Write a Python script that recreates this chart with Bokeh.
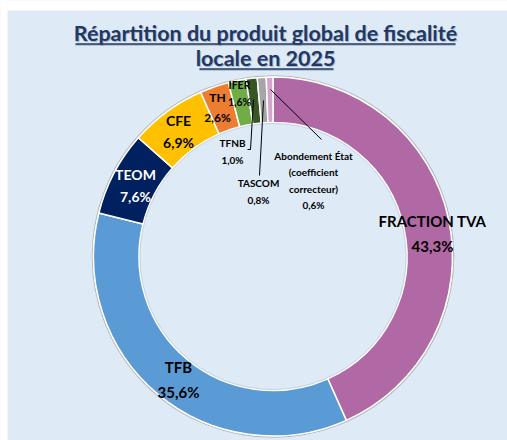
import numpy as np
from bokeh.plotting import figure
from bokeh.models import Range1d
from bokeh.core.properties import value
from bokeh.embed import file_html
from bokeh.resources import INLINE

# ---- data ----
categories = ["FRACTION TVA", "TFB", "TEOM", "CFE", "TH", "IFER", "TFNB", "TASCOM",
              "Abondement État\n(coefficient\ncorrecteur)"]
shares = [43.3, 35.6, 7.6, 6.9, 2.6, 1.6, 1.0, 0.8, 0.6]
share_labels = ["43,3%", "35,6%", "7,6%", "6,9%", "2,6%", "1,6%", "1,0%", "0,8%", "0,6%"]
colors = ["#B069A5", "#5B9BD5", "#002060", "#FFC000", "#ED7D31", "#70AD47", "#375623",
          "#A5A5A5", "#D6A3CD"]
title_lines = ["Répartition du produit global de fiscalité", "locale en 2025"]

# ---- layout (screen px -> data; y up) ----
W, H = 507, 440
BG = "#DEEAF6"
def Y(sy):
    return 440 - sy

p = figure(width=W, height=H, output_backend="svg", toolbar_location=None,
           x_range=Range1d(0, 507), y_range=Range1d(0, 440),
           x_axis_location=None, y_axis_location=None,
           min_border=0, outline_line_color=None, background_fill_color=BG,
           border_fill_color=BG)
p.grid.visible = False
p.title.visible = False

FONT = value("Lato")

# white margins of the original image (top strip and left strip)
p.quad(left=[-5, -5], right=[520, 7], bottom=[Y(10), Y(450)], top=[Y(-5), Y(-5)],
       fill_color="white", line_color=None)

# donut
cx, cy = 272.5, Y(256)
r_out, r_in = 179.5, 134
fr = np.array(shares) / sum(shares)
cum = np.concatenate([[0], np.cumsum(fr)])
start = np.pi / 2 - 2 * np.pi * cum[:-1]
end = np.pi / 2 - 2 * np.pi * cum[1:]

p.circle(x=cx, y=cy, radius=r_out + 1.2, fill_color=None, line_color="#B8B8B8", line_width=1.2)
p.annular_wedge(x=cx, y=cy, inner_radius=r_in, outer_radius=r_out,
                start_angle=start, end_angle=end, direction="clock",
                fill_color=colors, line_color="white", line_width=1.5)
p.circle(x=cx, y=cy, radius=r_in - 1, fill_color=None, line_color="#C8D3E0", line_width=1)

# title with shadow + underline
tcol = "#1F3864"
tx = 265
ty = [Y(32), Y(57)]
p.text(x=[tx + 1, tx + 1], y=[t - 1.5 for t in ty], text=title_lines, text_align="center",
       text_baseline="middle", text_font=FONT, text_font_style="bold",
       text_font_size="21.5px", text_color="#8A94A8", text_alpha=0.6)
p.text(x=[tx, tx], y=ty, text=title_lines, text_align="center", text_baseline="middle",
       text_font=FONT, text_font_style="bold", text_font_size="21.5px", text_color=tcol)
p.segment(x0=[75, 199], y0=[Y(44.5), Y(69.5)], x1=[455, 333], y1=[Y(44.5), Y(69.5)],
          line_color="#8A94A8", line_width=1.5, line_alpha=0.6)
p.segment(x0=[75, 199], y0=[Y(43.5), Y(68.5)], x1=[455, 333], y1=[Y(43.5), Y(68.5)],
          line_color=tcol, line_width=1.5)

# leader lines
p.line(x=[253, 250, 250, 247], y=[Y(99), Y(149), Y(149), Y(149)], line_color="black", line_width=1)
p.line(x=[263, 259], y=[Y(100), Y(175)], line_color="black", line_width=1)
p.line(x=[270, 321], y=[Y(89), Y(139)], line_color="black", line_width=1)

# labels
lab_pos = [(432, 233), (178, 379), (135, 185), (178, 131), (217, 107), (239, 93),
           (232, 151), (258, 191), (313, 180)]
lab_size = ["15px", "15px", "14px", "14px", "12px", "10.5px", "10px", "10px", "10px"]
lab_col = ["black", "black", "white", "black", "black", "black", "black", "black", "black"]
for i, (c, s) in enumerate(zip(categories, share_labels)):
    lx, ly = lab_pos[i]
    p.text(x=[lx], y=[Y(ly)], text=[c + "\n" + s], text_align="center",
           text_baseline="middle", text_font=FONT, text_font_style="bold",
           text_font_size=lab_size[i], text_color=lab_col[i], text_line_height=1.35)

open("out.html", "w").write(file_html(p, INLINE))
